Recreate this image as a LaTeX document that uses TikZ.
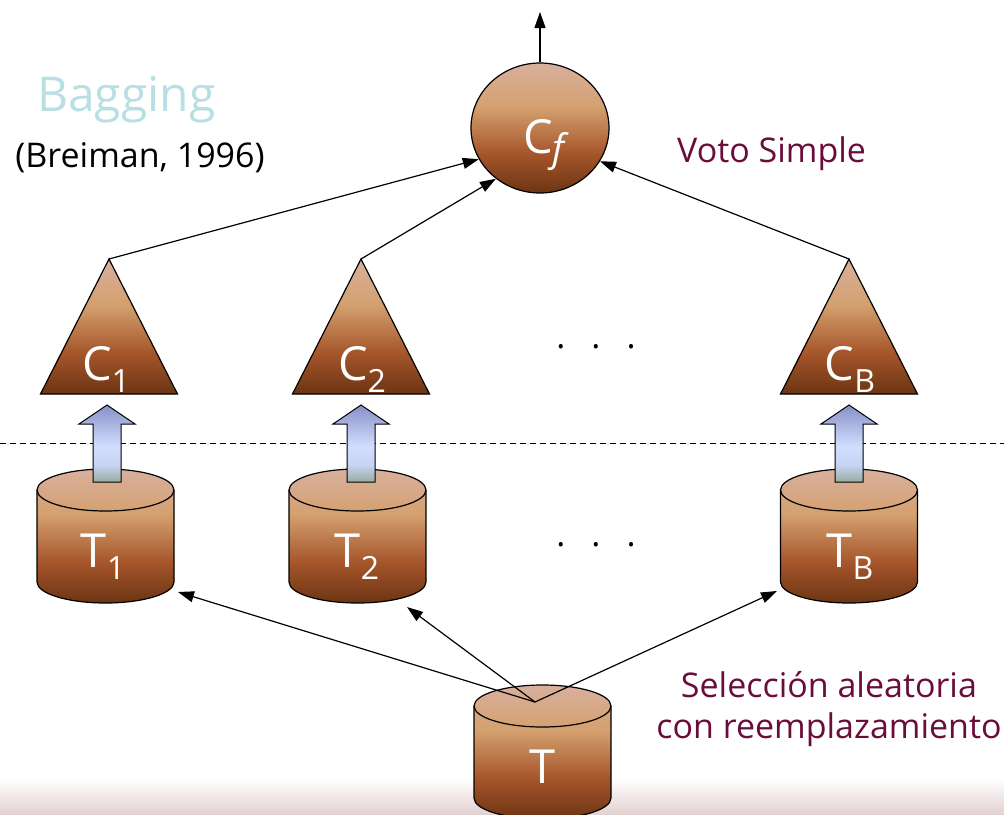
\documentclass[tikz,border=0pt]{standalone}
\usepackage{fontspec}
\setmainfont{Open Sans}
\usetikzlibrary{arrows.meta,shapes.geometric}

\definecolor{br1}{HTML}{D8B09E}
\definecolor{br2}{HTML}{D4A06E}
\definecolor{br3}{HTML}{A5552A}
\definecolor{br4}{HTML}{6C3413}
\definecolor{bl1}{HTML}{8890C8}
\definecolor{bl2}{HTML}{D2DEFE}
\definecolor{bl3}{HTML}{C6D3F2}
\definecolor{bl4}{HTML}{98AC9F}
\definecolor{bagcol}{HTML}{B8DFE4}
\definecolor{wine}{HTML}{6B0D3B}
\definecolor{band}{HTML}{E3D2D2}

\pgfdeclareverticalshading{brownsh}{100bp}{color(0bp)=(br4); color(25bp)=(br4); color(40bp)=(br3); color(58bp)=(br2); color(75bp)=(br1); color(100bp)=(br1)}
\pgfdeclareverticalshading{bluesh}{100bp}{color(0bp)=(bl4); color(25bp)=(bl4); color(36bp)=(bl3); color(48bp)=(bl2); color(75bp)=(bl1); color(100bp)=(bl1)}
\pgfdeclareverticalshading{bandsh}{100bp}{color(0bp)=(band); color(25bp)=(band); color(75bp)=(white); color(100bp)=(white)}

\newcommand\lowsub[1]{\raisebox{-12pt}{\fontsize{32}{32}\selectfont #1}}

\tikzset{
  outline/.style={line width=1.2pt, draw=black},
  conn/.style={line width=1.2pt, -{Triangle[length=16pt,width=11pt]}},
  lbl/.style={text=white, font=\fontsize{47}{47}\selectfont, inner sep=0pt, anchor=base},
  wtxt/.style={text=wine, font=\fontsize{34}{40}\selectfont, inner sep=0pt},
  cyl/.pic={
    \shadedraw[shading=brownsh, outline] (-68.5,0) -- (-68.5,-92) arc (180:360:68.5 and 21) -- (68.5,0) arc (0:180:68.5 and 21) -- cycle;
    \draw[outline] (-68.5,0) arc (180:360:68.5 and 21);
    \coordinate (-top) at (0,0);
  },
  tri/.pic={
    \shadedraw[shading=brownsh, outline] (0,0) -- (68.5,-135) -- (-68.5,-135) -- cycle;
    \coordinate (-apex) at (0,0);
  },
  barrow/.pic={
    \shadedraw[shading=bluesh, draw=black, line width=1pt] (0,0) -- (28,-19) -- (14,-19) -- (14,-77) -- (-14,-77) -- (-14,-19) -- (-28,-19) -- cycle;
  }
}

\begin{document}
\begin{tikzpicture}[x=1pt,y=1pt]
\useasboundingbox (0,0) rectangle (1004,-814);

% bottom band
\shade[shading=bandsh] (0,-778) rectangle (1004,-814);

% dashed separator
\draw[dash pattern=on 6pt off 4pt, line width=1pt] (0,-443) -- (1004,-443);

% titles
\node[text=bagcol, font=\fontsize{48}{50}\selectfont, inner sep=0pt, anchor=base west] (bag) at (37,-111) {Bagging};
\node[font=\fontsize{34}{40}\selectfont, inner sep=0pt, anchor=base] (brei) at (140,-167) {(Breiman, 1996)};
\node[wtxt, anchor=base west] (voto) at (677,-162) {Voto Simple};
\node[wtxt, anchor=base] (sel1) at (829,-697) {Selección aleatoria};
\node[wtxt, anchor=base] (sel2) at (829,-738) {con reemplazamiento};

% final classifier
\node[ellipse, minimum width=138pt, minimum height=130pt, inner sep=0pt, shading=brownsh, outline] (cf) at (540,-128) {};
\node[lbl] (cflbl) at (544,-153) {C\raisebox{-8pt}{\fontsize{38}{38}\selectfont\itshape f}};
\coordinate (out) at (540,-12);
\draw[conn] (cf.north) -- (out);

% classifiers
\pic (c1) at (109,-259) {tri};
\pic (c2) at (361,-259) {tri};
\pic (cb) at (849,-259) {tri};
\node[lbl] (c1lbl) at (106,-380) {C\lowsub{1}};
\node[lbl] (c2lbl) at (362,-380) {C\lowsub{2}};
\node[lbl] (cblbl) at (850,-380) {C\lowsub{B}};

% bootstrap sets
\pic (t1) at (105.5,-490) {cyl};
\pic (t2) at (357.5,-490) {cyl};
\pic (tb) at (849,-490) {cyl};
\node[lbl] (t1lbl) at (103,-567) {T\lowsub{1}};
\node[lbl] (t2lbl) at (357,-567) {T\lowsub{2}};
\node[lbl] (tblbl) at (850,-567) {T\lowsub{B}};

% block arrows
\pic (a1) at (107,-405) {barrow};
\pic (a2) at (361,-405) {barrow};
\pic (ab) at (849,-405) {barrow};

% dots
\node[font=\fontsize{34}{34}\selectfont, inner sep=0pt] (dots1) at (596,-347) {.\hspace{26pt}.\hspace{26pt}.};
\node[font=\fontsize{34}{34}\selectfont, inner sep=0pt] (dots2) at (596,-545) {.\hspace{26pt}.\hspace{26pt}.};

% original set
\pic (t) at (542.5,-706) {cyl};
\node[lbl] (tlbl) at (542,-783) {T};
\coordinate (tsrc) at (535,-702);
\coordinate (t1in) at (178,-592);
\coordinate (t2in) at (407,-607);
\coordinate (tbin) at (777,-591);
\draw[conn] (tsrc) -- (t1in);
\draw[conn] (tsrc) -- (t2in);
\draw[conn] (tsrc) -- (tbin);

% votes
\draw[conn] (c1-apex) -- (cf.207);
\draw[conn] (c2-apex) -- (cf.229);
\draw[conn] (cb-apex) -- (cf.331);
\end{tikzpicture}
\end{document}
